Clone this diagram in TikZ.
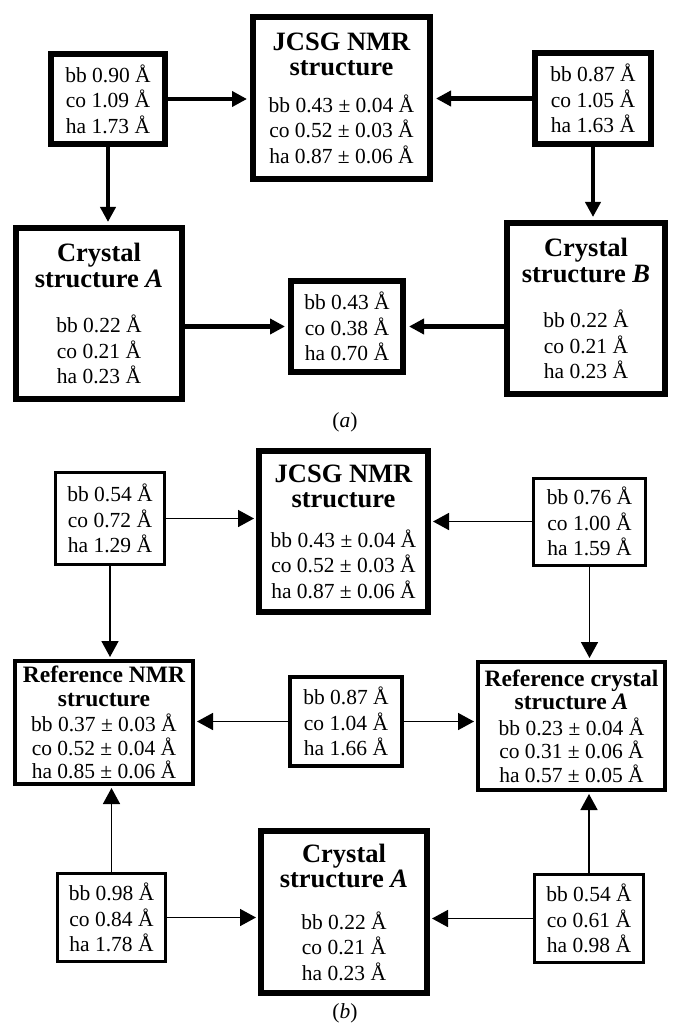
\documentclass[tikz,border=0pt]{standalone}
\usepackage{fontspec}
\setmainfont{Liberation Serif}
\usetikzlibrary{arrows.meta}

\newcommand{\ttl}[1]{{\fontsize{26.5}{25}\selectfont\bfseries #1}}
\newcommand{\rttl}[1]{{\fontsize{23.5}{22}\selectfont\bfseries #1}}

\begin{document}
\begin{tikzpicture}[x=1pt, y=-1pt, >=Latex,
  box/.style={draw, inner sep=0pt, align=center, font=\fontsize{21.5}{25.5}\selectfont},
  heavy/.style={box, line width=6pt},
  medium/.style={box, line width=4pt},
  light/.style={box, line width=3pt},
  refbox/.style={medium, font=\fontsize{21.5}{23.5}\selectfont},
  arra/.style={line width=4.5pt, -{Triangle[length=15pt,width=15pt]}, shorten >=3pt},
  arrb/.style={line width=1.6pt, -{Triangle[length=16pt,width=17pt]}, shorten >=2pt}]
  \useasboundingbox (0,0) rectangle (673,1024);

  % (a)
  \node[heavy, minimum width=177, minimum height=162] (jcsgA) at (341.5,98)
    {\ttl{JCSG NMR}\\\ttl{structure}\\[11pt]bb 0.43 ± 0.04 Å\\co 0.52 ± 0.03 Å\\ha 0.87 ± 0.06 Å};
  \node[heavy, minimum width=114, minimum height=90] (devL) at (108,99)
    {bb 0.90 Å\\co 1.09 Å\\ha 1.73 Å};
  \node[heavy, minimum width=116, minimum height=91] (devR) at (593,98.5)
    {bb 0.87 Å\\co 1.05 Å\\ha 1.63 Å};
  \node[heavy, minimum width=166, minimum height=171] (crysA) at (99,313.5)
    {\ttl{Crystal}\\\ttl{structure \textit{A}}\\[20pt]bb 0.22 Å\\co 0.21 Å\\ha 0.23 Å};
  \node[heavy, minimum width=158, minimum height=171] (crysB) at (586,308.5)
    {\ttl{Crystal}\\\ttl{structure \textit{B}}\\[20pt]bb 0.22 Å\\co 0.21 Å\\ha 0.23 Å};
  \node[heavy, minimum width=112, minimum height=91] (midA) at (347,326.5)
    {bb 0.43 Å\\co 0.38 Å\\ha 0.70 Å};
  \node[font=\fontsize{21.5}{25.5}\selectfont] (labA) at (345,422) {(\textit{a})};

  \draw[arra] (devL.east) -- (devL.east -| jcsgA.west);
  \draw[arra] (devR.west) -- (devR.west -| jcsgA.east);
  \draw[arra] (devL.south) -- (devL.south |- crysA.north);
  \draw[arra] (devR.south) -- (devR.south |- crysB.north);
  \draw[arra] (crysA.east |- midA.west) -- (midA.west);
  \draw[arra] (crysB.west |- midA.east) -- (midA.east);

  % (b)
  \node[heavy, minimum width=169, minimum height=161] (jcsgB) at (343.5,531.5)
    {\ttl{JCSG NMR}\\\ttl{structure}\\[14pt]bb 0.43 ± 0.04 Å\\co 0.52 ± 0.03 Å\\ha 0.87 ± 0.06 Å};
  \node[light, minimum width=109, minimum height=92] (devL2) at (110,518.5)
    {bb 0.54 Å\\co 0.72 Å\\ha 1.29 Å};
  \node[light, minimum width=112, minimum height=87] (devR2) at (589.5,521.5)
    {bb 0.76 Å\\co 1.00 Å\\ha 1.59 Å};
  \node[refbox, minimum width=178, minimum height=123] (refNMR) at (104,722.5)
    {\rttl{Reference NMR}\\\rttl{structure}\\[2pt]bb 0.37 ± 0.03 Å\\co 0.52 ± 0.04 Å\\ha 0.85 ± 0.06 Å};
  \node[medium, minimum width=112, minimum height=89] (midB) at (346,721.5)
    {bb 0.87 Å\\co 1.04 Å\\ha 1.66 Å};
  \node[refbox, minimum width=187, minimum height=128] (refCrys) at (571.5,726)
    {\rttl{Reference crystal}\\\rttl{structure \textit{A}}\\[2pt]bb 0.23 ± 0.04 Å\\co 0.31 ± 0.06 Å\\ha 0.57 ± 0.05 Å};
  \node[heavy, minimum width=166, minimum height=162] (crysA2) at (344,912)
    {\ttl{Crystal}\\\ttl{structure \textit{A}}\\[16pt]bb 0.22 Å\\co 0.21 Å\\ha 0.23 Å};
  \node[light, minimum width=108, minimum height=88] (devL3) at (111.5,917.5)
    {bb 0.98 Å\\co 0.84 Å\\ha 1.78 Å};
  \node[light, minimum width=109, minimum height=88] (devR3) at (589,918.5)
    {bb 0.54 Å\\co 0.61 Å\\ha 0.98 Å};
  \node[font=\fontsize{21.5}{25.5}\selectfont] (labB) at (345,1013) {(\textit{b})};

  \draw[arrb] (devL2.east) -- (devL2.east -| jcsgB.west);
  \draw[arrb] (devR2.west) -- (devR2.west -| jcsgB.east);
  \draw[arrb] (devL2.south) -- (devL2.south |- refNMR.north);
  \draw[arrb] (devR2.south) -- (devR2.south |- refCrys.north);
  \draw[arrb] (midB.west) -- (midB.west -| refNMR.east);
  \draw[arrb] (midB.east) -- (midB.east -| refCrys.west);
  \draw[arrb] (devL3.north) -- (devL3.north |- refNMR.south);
  \draw[arrb] (devR3.north) -- (devR3.north |- refCrys.south);
  \draw[arrb] (devL3.east) -- (devL3.east -| crysA2.west);
  \draw[arrb] (devR3.west) -- (devR3.west -| crysA2.east);
\end{tikzpicture}
\end{document}
